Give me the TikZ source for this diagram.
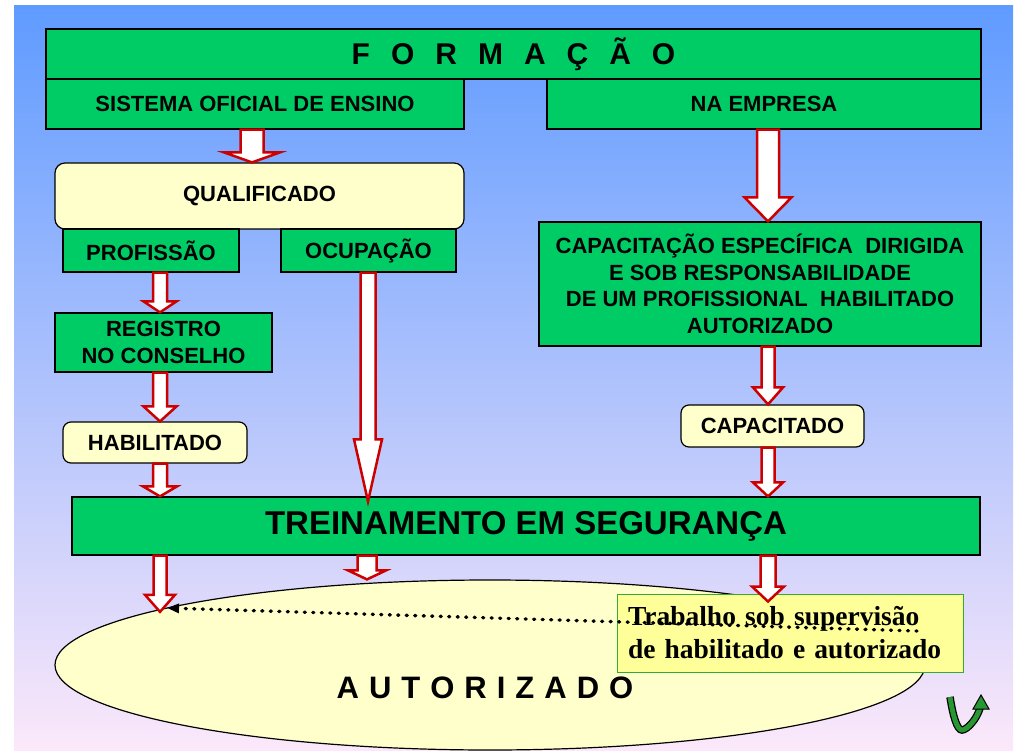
\documentclass[tikz,border=0pt]{standalone}
\usepackage{fontspec}
\setmainfont{Liberation Sans}
\newfontfamily\notefont{Liberation Serif}
\usetikzlibrary{calc,shapes.geometric,arrows.meta}

\definecolor{boxgreen}{RGB}{0,204,102}
\definecolor{boxyellow}{RGB}{255,255,204}
\definecolor{noteyellow}{RGB}{255,255,153}
\definecolor{noteborder}{RGB}{51,170,51}
\definecolor{arrowred}{RGB}{204,0,0}
\definecolor{icongreen}{RGB}{40,150,50}
\definecolor{bgtop}{RGB}{95,155,255}
\definecolor{bgmid}{RGB}{150,196,250}
\definecolor{bgbot}{RGB}{252,232,250}

% block arrow: x, from, to, shaft half width, head half width, head length
\newcommand{\redarrow}[6]{%
  \draw[bigarrow] let \p1 = (#2), \p2 = (#3) in
    ({#1pt-#4pt},\y1) -- ({#1pt+#4pt},\y1) -- ({#1pt+#4pt},{\y2+#6pt})
    -- ({#1pt+#5pt},{\y2+#6pt}) -- (#1pt,\y2) -- ({#1pt-#5pt},{\y2+#6pt})
    -- ({#1pt-#4pt},{\y2+#6pt}) -- cycle;}

\begin{document}
\begin{tikzpicture}[x=1pt,y=-1pt,
    greenbox/.style={draw=black,line width=1.2pt,fill=boxgreen,inner sep=0pt,
        font=\bfseries\fontsize{22}{26.5}\selectfont,align=center},
    yellowbox/.style={greenbox,fill=boxyellow,rounded corners=10pt},
    bigarrow/.style={draw=arrowred,fill=white,line width=2.5pt,line join=miter},
    notebox/.style={draw=noteborder,line width=1pt,fill=noteyellow,inner sep=0pt,
        font=\notefont\bfseries\fontsize{27.5}{33}\selectfont,align=left},
    dotline/.style={line width=3.4pt,dash pattern=on 1pt off 7.5pt,line cap=round},
    ]
    \useasboundingbox (0,0) rectangle (1022,751);
    \shade[top color=bgtop,middle color=bgmid,bottom color=bgbot] (14,6) rectangle (1013,751);

    % top row
    \node[greenbox,minimum width=935,minimum height=50,font=\bfseries\fontsize{30}{34}\selectfont]
        (formacao) at (513.5,54) {\spaceskip=21pt F O R M A Ç Ã O};
    \node[greenbox,minimum width=418,minimum height=50] (sistema) at (255,104) {SISTEMA OFICIAL DE ENSINO};
    \node[greenbox,minimum width=434,minimum height=50] (empresa) at (764,104) {NA EMPRESA};

    % left column
    \node[yellowbox,minimum width=409,minimum height=66] (qualif) at (259.5,196) {QUALIFICADO};
    \node[greenbox,minimum width=176,minimum height=43] (profissao) at (151,250.5) {PROFISSÃO};
    \node[greenbox,minimum width=175,minimum height=43] (ocupacao) at (368.5,250.5) {OCUPAÇÃO};
    \node[greenbox,minimum width=217,minimum height=59] (registro) at (163.5,342.5) {REGISTRO\\NO CONSELHO};
    \node[yellowbox,minimum width=184,minimum height=41,rounded corners=8pt] (habil) at (155,442.5) {HABILITADO};

    % right column
    \node[greenbox,minimum width=442,minimum height=124] (capac) at (760,284)
        {CAPACITAÇÃO ESPECÍFICA\ \ DIRIGIDA\\E SOB RESPONSABILIDADE\\DE UM PROFISSIONAL\ \ HABILITADO\\AUTORIZADO};
    \node[yellowbox,minimum width=183,minimum height=42,rounded corners=8pt] (capacitado) at (772.5,426) {CAPACITADO};

    % training and result
    \node[greenbox,minimum width=908,minimum height=58,font=\bfseries\fontsize{33}{38}\selectfont]
        (treino) at (526,526) {TREINAMENTO EM SEGURANÇA};
    \node[draw=black,line width=1.2pt,fill=boxyellow,ellipse,inner sep=0pt,
        minimum width=870,minimum height=170] (autz) at (490,665) {};
    \node[font=\bfseries\fontsize{31}{36}\selectfont] (autztext) at (485,688) {\spaceskip=10pt A U T O R I Z A D O};
    \node[notebox,minimum width=346,minimum height=78,text width=324] (note) at (790,633)
        {Trabalho sob supervisão\\de habilitado e autorizado};

    % arrows
    \redarrow{252}{sistema.south}{qualif.north}{11.5}{28}{10}
    \redarrow{160}{profissao.south}{registro.north}{7}{16.5}{11}
    \redarrow{160}{registro.south}{habil.north}{7}{16.5}{15}
    \redarrow{160}{habil.south}{treino.north}{7}{17}{10}
    \redarrow{368}{ocupacao.south}{[yshift=-5pt]treino.north}{7.5}{14}{62}
    \redarrow{768}{empresa.south}{capac.north}{11}{23.5}{24}
    \redarrow{768}{capac.south}{capacitado.north}{6.5}{15}{17}
    \redarrow{768}{capacitado.south}{treino.north}{6.5}{15}{14}
    \redarrow{160}{treino.south}{[yshift=-4pt]autz.170}{6.5}{15}{17}
    \redarrow{367}{treino.south}{autz.north}{9.5}{19}{9}
    \redarrow{768}{treino.south}{[yshift=-8pt]note.north}{7.5}{16}{15}

    % supervision link
    \coordinate (dotS) at (917,631);
    \coordinate (dotE) at (167,608);
    \draw[dotline,-{Triangle[length=12pt,width=9pt]}] (dotS) -- (dotE);

    % turn icon
    \draw[black,line width=7.5pt] (950,697) .. controls (953,716) and (957,730) .. (962,730)
        .. controls (967,730) and (977,719) .. (980,708);
    \draw[icongreen,line width=5pt] (950,697) .. controls (953,716) and (957,730) .. (962,730)
        .. controls (967,730) and (977,719) .. (980,708);
    \filldraw[fill=icongreen,draw=black,line width=1pt] (981,695) -- (989,709) -- (973,709) -- cycle;
\end{tikzpicture}
\end{document}
